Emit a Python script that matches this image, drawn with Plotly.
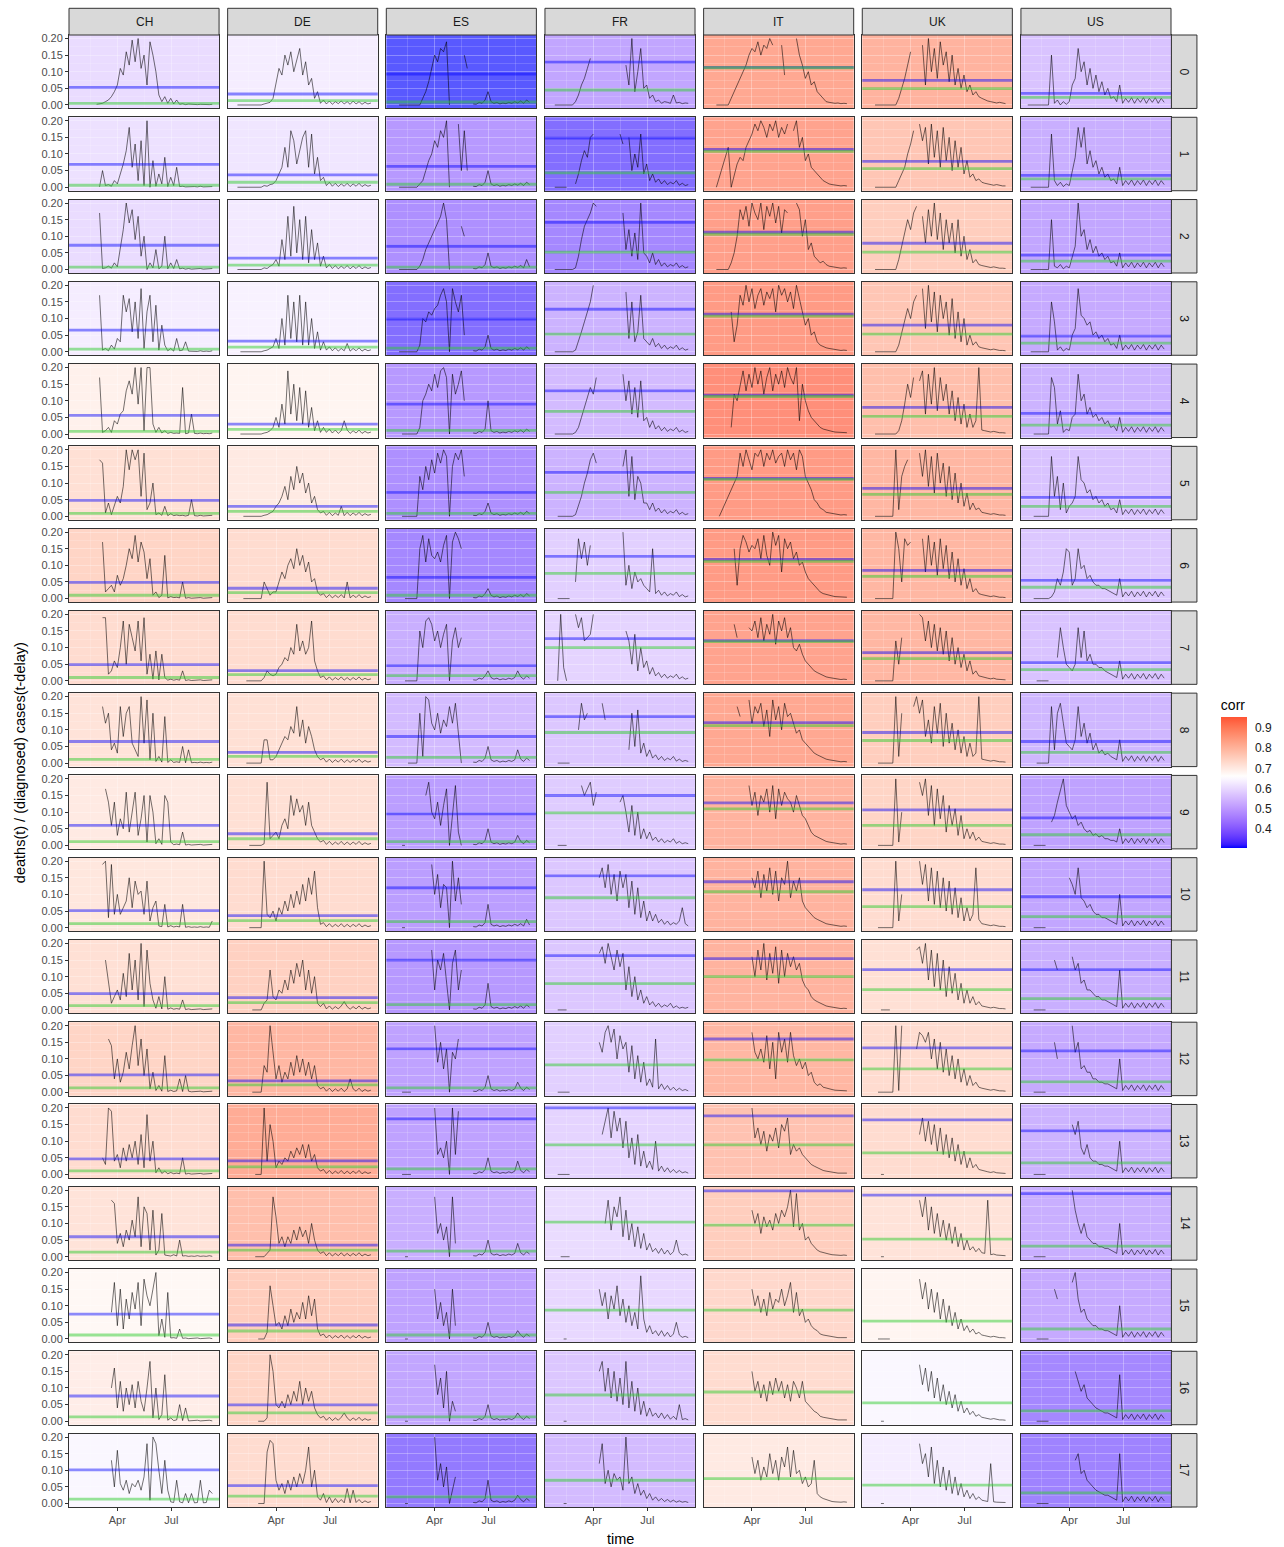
import pandas as pd
import plotly.graph_objects as go
import plotly.colors as pc

N = None
X = -1  # row absent from the source table (line joins its neighbours)

COUNTRIES = ["CH", "DE", "ES", "FR", "IT", "UK", "US"]
DELAYS = list(range(18))
DATES = pd.date_range("2020-01-22", periods=47, freq="5D")

# ---------------- correlation per delay (panel fill) ----------------
CORR_CH = [0.58, 0.59, 0.58, 0.62, 0.70, 0.75, 0.78, 0.76, 0.74, 0.72, 0.73, 0.75, 0.78, 0.76, 0.74, 0.68, 0.71, 0.64]
CORR_DE = [0.62, 0.60, 0.61, 0.63, 0.69, 0.72, 0.76, 0.76, 0.75, 0.75, 0.76, 0.79, 0.86, 0.89, 0.84, 0.80, 0.78, 0.76]
CORR_ES = [0.305, 0.42, 0.40, 0.33, 0.42, 0.40, 0.38, 0.47, 0.50, 0.43, 0.43, 0.42, 0.44, 0.44, 0.47, 0.44, 0.45, 0.35]
CORR_FR = [0.45, 0.33, 0.38, 0.48, 0.50, 0.48, 0.55, 0.56, 0.53, 0.54, 0.53, 0.53, 0.55, 0.56, 0.58, 0.57, 0.53, 0.50]
CORR_IT = [0.90, 0.91, 0.92, 0.93, 0.955, 0.93, 0.93, 0.91, 0.90, 0.87, 0.87, 0.87, 0.86, 0.83, 0.80, 0.77, 0.76, 0.72]
CORR_UK = [0.87, 0.82, 0.80, 0.82, 0.84, 0.86, 0.86, 0.86, 0.80, 0.78, 0.76, 0.75, 0.76, 0.76, 0.74, 0.69, 0.64, 0.62]
CORR_US = [0.52, 0.47, 0.45, 0.46, 0.48, 0.52, 0.53, 0.52, 0.49, 0.44, 0.45, 0.47, 0.46, 0.48, 0.47, 0.46, 0.38, 0.37]

# ---------------- blue horizontal line (mean ratio) ----------------
MEAN_CH = [0.053, 0.069, 0.073, 0.065, 0.056, 0.048, 0.049, 0.049, 0.065, 0.060, 0.051, 0.049, 0.052, 0.047, 0.060, 0.075, 0.076, 0.101]
MEAN_DE = [0.033, 0.037, 0.034, 0.032, 0.030, 0.030, 0.031, 0.031, 0.032, 0.035, 0.036, 0.037, 0.034, 0.041, 0.035, 0.042, 0.049, 0.054]
MEAN_ES = [0.093, 0.063, 0.070, 0.098, 0.090, 0.072, 0.064, 0.046, 0.080, 0.095, 0.120, 0.150, 0.130, 0.167, N, N, N, N]
MEAN_FR = [0.129, 0.148, 0.142, 0.128, 0.130, 0.132, 0.127, 0.127, 0.140, 0.150, 0.156, 0.163, N, 0.200, N, N, N, N]
MEAN_IT = [0.113, 0.114, 0.112, 0.113, 0.117, 0.114, 0.118, 0.121, 0.122, 0.128, 0.138, 0.154, 0.160, 0.176, 0.198, N, N, N]
MEAN_UK = [0.074, 0.078, 0.079, 0.080, 0.080, 0.084, 0.085, 0.085, 0.092, 0.107, 0.114, 0.121, 0.133, 0.164, 0.185, N, N, N]
MEAN_US = [0.035, 0.036, 0.043, 0.047, 0.062, 0.057, 0.055, 0.055, 0.065, 0.083, 0.093, 0.121, 0.124, 0.131, 0.190, N, N, N]

# ---------------- green horizontal line (median ratio) ----------------
MED_CH = [0.005, 0.006, 0.007, 0.008, 0.008, 0.009, 0.010, 0.010, 0.011, 0.011, 0.012, 0.013, 0.013, 0.011, 0.014, 0.012, 0.013, 0.013]
MED_DE = [0.013, 0.015, 0.013, 0.014, 0.014, 0.015, 0.018, 0.019, 0.020, 0.020, 0.021, 0.022, 0.022, 0.023, 0.020, 0.024, 0.025, 0.022]
MED_ES = [0.009, 0.009, 0.007, 0.011, 0.011, 0.009, 0.010, 0.016, 0.017, 0.011, 0.018, 0.016, 0.013, 0.017, 0.017, 0.012, 0.013, 0.020]
MED_FR = [0.045, 0.043, 0.052, 0.053, 0.068, 0.072, 0.076, 0.100, 0.092, 0.098, 0.090, 0.079, 0.082, 0.089, 0.104, 0.087, 0.079, 0.070]
MED_IT = [0.112, 0.108, 0.106, 0.107, 0.113, 0.111, 0.112, 0.118, 0.113, 0.110, 0.108, 0.100, 0.097, 0.089, 0.095, 0.087, 0.088, 0.075]
MED_UK = [0.049, 0.056, 0.052, 0.053, 0.053, 0.066, 0.067, 0.067, 0.068, 0.060, 0.063, 0.061, 0.070, 0.065, 0.053, 0.054, 0.055, 0.055]
MED_US = [0.023, 0.025, 0.025, 0.026, 0.027, 0.030, 0.034, 0.034, 0.032, 0.032, 0.033, 0.034, 0.031, 0.035, 0.032, 0.030, 0.031, 0.032]

# ---------------- ratio series, thousandths, every 5 days from 2020-01-22 ----------------
SERIES_CH = [
    [N,N,N,N,N,N,N,2,3,5, 10,15,25,40,60,110,90,160,120,195, 130,200,110,150,60,190,150,100,30,10, 25,5,20,3,15,2,4,1,3,2, 3,1,2,1,2,1,2],
    [N,N,N,N,N,N,N,N,1,50, 5,8,3,20,10,40,70,110,180,60, 130,20,140,5,200,0,80,3,40,10, 90,2,30,5,60,2,3,1,2,1, 2,1,3,1,2,1,2],
    [N,N,N,N,N,N,N,N,170,3, 5,10,4,20,8,60,120,200,140,180, 90,160,40,100,0,20,5,60,2,10, 100,2,20,3,30,2,4,1,3,1, 2,1,3,1,2,1,3],
    [N,N,N,N,N,N,N,N,170,5, 10,3,20,8,40,30,170,120,160,60, 150,40,190,10,120,170,30,140,5,80, 20,3,10,2,40,3,5,30,2,1, 2,1,3,1,2,1,3],
    [N,N,N,N,N,N,N,N,170,5, 10,20,5,40,30,60,70,130,160,120, 200,90,200,10,200,200,30,5,20,3, 10,2,5,2,3,2,140,1,3,60, 2,1,3,1,2,1,3],
    [N,N,N,N,N,N,N,N,170,160, 10,40,5,30,60,40,90,200,140,200, 170,200,60,190,20,40,100,5,10,3, 30,2,8,2,4,2,3,1,3,50, 2,1,3,1,2,1,3],
    [N,N,N,N,N,N,N,N,N,170, 20,30,40,20,70,40,60,100,150,120, 190,110,170,140,60,120,10,20,3,10, 130,2,6,3,4,2,50,1,3,1, 2,1,3,1,2,1,3],
    [N,N,N,N,N,N,N,N,N,190, 190,20,30,60,40,100,180,50,170,130, 90,180,60,190,20,80,5,90,3,80, 10,2,5,2,4,2,30,1,3,1, 2,1,3,1,2,1,3],
    [N,N,N,N,N,N,N,N,N,170, 120,150,40,60,30,170,80,150,170,60, 40,20,200,60,190,10,150,5,20,3, 140,2,10,2,4,2,50,1,40,1, 2,1,3,1,2,1,3],
    [N,N,N,N,N,N,N,N,N,N, 170,130,60,130,30,80,50,160,40,100, 160,30,80,150,10,150,100,5,20,3, 150,130,10,2,4,2,40,1,3,1, 2,1,3,1,2,1,3],
    [N,N,N,N,N,N,N,N,N,190, 200,30,190,40,100,40,60,80,150,60, 140,100,110,40,140,20,60,80,5,3, 70,2,6,2,4,2,70,1,3,1, 2,1,3,1,2,1,20],
    [N,N,N,N,N,N,N,N,N,N, 150,80,20,40,60,30,110,40,170,60, 150,30,200,10,180,80,30,5,40,3, 100,2,6,2,4,2,30,1,3,1, 2,1,3,1,2,1,3],
    [N,N,N,N,N,N,N,N,N,N, N,160,140,40,100,30,60,120,70,140, 200,80,160,50,130,10,60,5,20,3, 110,2,6,2,4,40,2,50,3,1, 2,1,3,1,2,1,3],
    [N,N,N,N,N,N,N,N,N,50, 30,200,190,40,60,20,80,40,90,50, 100,30,120,20,180,40,100,5,20,3, 10,2,6,2,4,2,50,1,3,1, 2,1,3,1,2,1,3],
    [N,N,N,N,N,N,N,N,N,N, N,N,170,160,40,70,30,80,50,110, 60,180,30,150,130,20,140,5,20,130, 5,4,2,6,2,50,2,3,1,2, 1,3,1,2,1,3,1],
    [N,N,N,N,N,N,N,N,N,N, N,N,80,170,40,150,30,120,60,140, 90,170,40,180,130,100,150,200,10,60, 5,140,3,4,2,30,2,3,1,2, 1,3,1,2,1,3,1],
    [N,N,N,N,N,N,N,N,N,N, N,N,100,160,40,120,30,100,50,110, 40,120,60,30,100,180,10,100,5,20, 140,3,10,2,4,50,2,40,1,2, 1,3,1,2,1,3,1],
    [N,N,N,N,N,N,N,N,N,N, N,N,130,50,160,60,40,70,30,60, 50,70,40,80,180,10,200,180,100,30, 130,40,5,3,70,5,2,30,2,30, 2,3,70,2,3,40,30],
]

SERIES_DE = [
    [N,0,0,0,0,0,0,0,0,0, 3,5,8,20,60,110,90,150,120,160, 100,140,170,90,130,60,80,20,40,5, 15,3,12,2,10,4,12,3,10,2, 12,3,10,2,8,3,6],
    [N,0,0,0,0,0,0,0,0,0, 5,3,8,10,20,40,60,120,60,170, 140,70,110,150,170,60,160,40,90,20, 30,5,15,3,12,2,10,3,12,2, 10,3,12,2,8,3,6],
    [N,0,0,0,0,0,0,0,0,0, 5,3,10,15,30,10,90,30,160,40, 190,50,150,30,160,20,120,30,80,10, 40,5,15,3,12,2,10,3,12,2, 10,3,12,2,8,3,6],
    [N,N,0,0,0,0,0,0,0,0, 3,5,10,15,40,10,100,20,170,40, 150,30,170,20,150,20,100,10,60,5, 30,5,15,3,12,2,10,3,25,2, 10,3,12,2,8,3,6],
    [N,N,0,0,0,0,0,0,0,0, 3,5,10,20,50,20,90,30,190,60, 150,40,140,30,130,20,80,10,40,5, 20,5,15,3,12,2,10,40,12,2, 10,3,12,2,8,3,6],
    [N,N,N,0,0,0,0,0,0,0, 3,5,10,15,30,40,60,90,50,120, 80,150,100,130,70,100,40,60,20,10, 15,3,12,2,10,3,30,2,12,2, 10,3,12,2,8,3,6],
    [N,N,N,0,0,0,0,0,0,0, 50,30,10,20,20,50,80,60,100,120, 90,150,100,130,80,110,50,60,20,10, 15,3,12,2,10,3,12,2,50,2, 10,3,12,2,8,3,6],
    [N,N,N,N,0,0,0,0,0,0, 10,30,20,15,20,40,50,70,60,100, 80,170,90,120,80,100,180,60,30,10, 15,3,12,2,10,3,12,2,10,2, 10,3,12,2,8,3,6],
    [N,N,N,N,0,0,0,0,0,0, 70,70,10,10,20,40,60,80,70,110, 90,170,80,130,60,110,80,40,20,10, 15,3,12,2,10,3,12,2,10,2, 10,3,12,2,8,3,6],
    [N,N,N,N,N,0,0,0,0,0, 5,190,20,30,40,20,60,80,50,150, 90,140,100,120,60,130,60,40,20,10, 15,3,12,2,10,3,12,2,10,2, 10,3,12,2,8,3,6],
    [N,N,N,N,N,0,0,0,0,0, 200,40,30,50,20,60,40,80,50,100, 60,110,70,130,80,150,100,170,60,10, 15,3,12,2,10,3,12,2,10,2, 10,3,12,2,8,3,6],
    [N,N,N,N,N,N,0,0,0,0, 20,30,120,40,30,60,50,90,60,120, 80,140,100,150,60,120,50,100,20,10, 20,3,12,2,10,3,12,25,10,2, 10,3,12,2,8,3,6],
    [N,N,N,N,N,N,0,0,0,0, 80,60,200,120,40,80,30,60,40,90, 50,110,60,100,50,90,40,80,20,10, 15,3,12,2,10,3,12,2,10,40, 10,3,12,2,8,3,6],
    [N,N,N,N,N,N,N,0,0,0, 200,40,150,100,20,40,30,50,40,70, 50,80,60,90,50,90,40,60,20,10, 15,3,12,2,10,3,12,2,10,2, 10,3,12,2,8,3,6],
    [N,N,N,N,N,N,N,0,0,0, 0,10,20,180,120,40,60,30,60,40, 80,50,90,60,80,40,100,50,20,10, 15,3,12,2,10,3,12,2,10,2, 10,3,12,2,8,3,6],
    [N,N,N,N,N,N,N,N,0,0, 0,20,160,100,40,50,30,70,40,90, 50,80,60,110,60,130,70,120,30,10, 15,3,12,2,10,3,12,2,10,2, 10,3,12,2,8,3,6],
    [N,N,N,N,N,N,N,N,0,0, 0,10,200,150,50,40,60,40,80,50, 90,60,120,50,100,60,90,40,20,10, 15,3,12,2,10,3,12,25,10,2, 10,3,12,2,8,3,6],
    [N,N,N,N,N,N,N,N,0,0, 0,155,190,180,70,40,60,30,70,40, 80,50,90,60,100,170,50,100,20,10, 30,3,20,2,15,3,12,2,45,2, 40,3,12,2,8,3,6],
]

SERIES_ES = [
    [N,N,0,0,0,0,0,0,0,0, 20,40,70,110,150,130,170,160,190,0, N,N,N,N,150,110,N,3,2,8, 5,15,40,10,5,8,3,6,4,8, 5,10,6,12,5,15,8],
    [N,N,0,0,0,0,0,0,0,10, 20,50,80,100,140,120,170,150,200,0, N,N,190,50,170,50,N,3,2,8, 5,15,50,10,5,8,3,6,4,8, 5,10,6,12,5,15,8],
    [N,N,0,0,0,0,0,0,0,10, 30,60,80,100,120,140,160,200,150,0, N,N,N,130,100,N,N,3,2,8, 5,15,50,10,5,8,3,6,4,8, 5,10,6,12,5,30,8],
    [N,N,0,0,0,0,0,0,0,20, 100,90,120,110,130,140,170,190,150,0, 190,150,120,170,50,N,N,3,2,8, 5,15,50,10,5,8,3,6,4,8, 5,10,6,12,5,15,8],
    [N,N,N,0,0,0,0,0,0,20, 100,120,150,130,180,140,190,200,170,0, 180,120,150,190,100,N,N,3,2,8, 5,15,100,10,5,8,3,6,4,8, 5,10,6,12,5,15,8],
    [N,N,N,0,0,0,0,0,0,120, 80,150,110,170,130,190,160,200,180,0, 150,190,170,200,120,N,N,3,2,8, 5,15,40,10,5,8,3,6,4,8, 5,10,6,12,5,15,8],
    [N,N,N,N,0,0,0,0,0,150, 190,110,180,130,120,140,110,160,190,0, 170,200,180,150,N,N,N,3,2,8, 5,15,30,10,5,8,3,6,4,8, 5,10,6,12,5,15,8],
    [N,N,N,N,0,0,0,0,0,150, 100,180,190,170,120,150,100,140,170,0, 120,160,100,130,N,N,N,3,2,8, 5,15,30,10,5,8,3,6,4,8, 5,10,30,12,5,15,8],
    [N,N,N,N,N,0,0,0,0,150, 20,200,190,120,100,150,90,130,110,170, 120,180,100,0,N,N,N,3,2,8, 5,15,50,10,5,8,3,6,4,8, 5,10,40,12,5,15,8],
    [N,N,N,0,0,N,N,N,N,N, N,150,190,100,80,130,60,120,170,0, 100,180,40,0,N,N,N,3,2,8, 5,15,50,10,5,8,3,6,4,8, 5,10,30,12,5,15,8],
    [N,N,N,0,0,N,N,N,N,N, N,N,N,190,100,160,60,130,120,0, 200,80,150,70,N,N,N,3,2,8, 5,15,70,10,5,8,3,6,4,8, 5,10,6,12,5,25,8],
    [N,N,N,N,N,N,N,N,N,N, N,N,N,180,60,150,120,170,80,0, 140,180,60,120,N,N,N,3,2,8, 5,15,80,10,5,8,3,6,4,8, 5,10,6,12,5,15,8],
    [N,N,N,0,0,0,0,N,N,N, N,N,N,N,200,90,150,70,130,0, 120,100,160,N,N,N,N,3,2,8, 5,15,50,10,5,8,3,6,4,8, 5,10,30,12,5,15,8],
    [N,N,N,0,0,0,0,N,N,N, N,N,N,N,200,60,80,50,100,0, 200,60,190,N,N,N,N,3,2,8, 5,15,50,10,5,8,3,6,4,8, 5,10,40,12,5,15,8],
    [N,N,N,N,0,0,N,N,N,N, N,N,N,N,180,70,100,50,90,0, 180,40,N,N,N,N,N,3,2,8, 5,15,50,10,5,8,3,6,4,8, 5,10,40,12,5,15,8],
    [N,N,N,N,0,0,N,N,N,N, N,N,N,N,150,60,110,40,80,0, 150,40,N,N,N,N,N,3,2,8, 5,15,50,10,5,8,3,6,4,8, 5,10,25,12,5,15,8],
    [N,N,N,N,0,0,N,N,N,N, N,N,N,N,170,80,130,40,150,0, 60,30,N,N,N,N,N,3,2,8, 5,15,50,10,5,8,3,6,4,8, 5,10,25,12,5,15,8],
    [N,N,N,N,0,0,N,N,N,N, N,N,N,N,200,70,120,50,110,0, 40,80,N,N,N,N,N,3,2,8, 5,15,70,10,5,8,3,6,4,8, 5,10,25,12,5,15,8],
]

SERIES_FR = [
    [N,0,0,0,0,0,0,0,10,30, 60,80,110,140,N,N,N,N,N,N, N,N,N,N,N,120,60,200,40,100, 170,50,60,20,30,10,15,5,10,8, 5,30,6,8,4,6,5],
    [N,0,0,0,0,0,N,N,10,40, 80,110,90,150,160,N,N,190,N,N, N,N,N,160,130,N,150,50,100,60, 160,40,70,20,40,15,25,10,20,8, 15,10,20,6,12,5,8],
    [N,0,0,0,0,0,0,0,5,40, 90,130,150,170,200,190,N,N,N,N, 170,N,N,N,170,60,120,40,110,30, 200,50,40,20,50,15,30,10,20,8, 15,10,20,6,12,5,8],
    [N,0,0,0,0,0,0,0,5,30, 60,90,120,150,200,N,N,N,170,N, N,130,N,160,N,180,40,150,30,60, 170,40,30,20,40,15,25,10,20,8, 15,10,20,6,12,5,8],
    [N,0,0,0,0,0,0,0,5,20, 50,80,110,140,120,170,N,N,N,N, 200,N,N,N,180,100,160,60,140,50, 160,40,50,20,40,15,25,10,20,8, 15,10,20,6,12,5,8],
    [N,N,0,0,0,0,0,0,5,30, 60,100,130,170,190,160,N,N,N,150, N,N,N,N,150,200,60,180,50,120, 100,40,40,20,40,15,25,10,20,8, 15,10,20,6,12,5,8],
    [N,N,0,0,0,0,0,N,50,180, 120,170,100,160,N,N,N,N,N,170, N,N,150,N,200,40,100,30,80,50, 60,40,30,20,150,15,25,10,20,8, 15,10,20,6,12,5,8],
    [N,N,0,200,40,0,N,N,200,160, 190,120,130,140,200,N,N,N,180,N, N,N,N,170,N,150,120,50,140,30, 100,40,60,20,40,15,25,10,20,8, 15,10,20,6,12,5,8],
    [N,N,0,0,0,0,0,N,N,100, 180,130,150,N,N,170,N,180,130,N, N,N,150,N,170,N,40,150,50,160, 30,60,20,40,15,25,10,20,8,15, 10,20,6,12,5,8,5],
    [N,N,0,0,0,0,N,N,N,N, 180,150,170,190,120,160,N,180,N,140, N,160,N,130,150,100,40,120,30,100, 20,50,20,40,15,25,10,20,8,15, 10,20,6,12,5,8,5],
    [N,N,N,N,N,N,N,N,N,N, N,N,N,N,N,N,150,180,120,190, 100,160,80,170,120,160,60,140,40,120, 30,80,20,50,20,40,15,25,10,20, 8,15,10,20,60,12,5],
    [N,N,0,0,0,0,N,N,N,N, N,N,N,N,N,N,170,190,140,200, 160,120,180,130,170,60,130,40,100,30, 60,20,40,15,25,10,20,8,15,10, 20,6,12,5,8,5,8],
    [N,N,0,0,0,0,0,N,N,N, N,N,N,N,N,N,150,120,180,200, 150,190,100,170,130,150,60,140,40,110, 30,90,20,40,15,160,10,25,8,20, 6,15,5,12,5,8,4],
    [N,N,0,0,0,0,0,N,N,N, N,N,N,N,N,N,N,120,160,200, 110,190,130,170,80,160,50,110,30,120, 25,70,20,40,15,100,10,25,8,20, 6,15,5,12,5,8,4],
    [N,N,N,0,0,0,0,N,N,N, N,N,N,N,N,N,N,N,100,170, 80,150,120,180,60,140,50,100,30,90, 25,70,20,40,15,25,10,25,8,20, 6,15,50,12,5,8,4],
    [N,N,N,N,0,0,N,N,N,N, N,N,N,N,N,N,150,100,140,60, 130,90,160,70,120,50,100,40,80,30, 190,60,20,40,15,25,10,25,8,20, 6,15,50,12,5,8,4],
    [N,N,N,N,0,0,N,N,N,N, N,N,N,N,N,N,150,180,90,160, 70,150,60,130,50,180,40,120,30,100, 20,60,15,40,15,25,10,25,8,20, 6,15,5,50,5,8,4],
    [N,N,N,N,0,0,N,N,N,N, N,N,N,N,N,N,120,180,60,100, 50,90,70,80,40,200,60,80,30,60, 25,40,15,30,10,20,8,15,6,12, 5,10,4,8,4,6,3],
]

SERIES_IT = [
    [N,N,0,0,0,0,0,20,40,60, 80,100,120,150,170,160,190,150,180,170, 200,180,N,N,180,90,N,N,N,200, 150,120,80,100,60,70,40,30,20,10, 8,6,5,6,4,5,4],
    [N,N,0,X,X,X,120,0,40,70, 90,80,120,140,160,190,170,200,180,150, 190,170,200,150,180,160,190,N,170,200, 120,150,80,100,60,50,40,30,20,15, 10,8,6,5,4,5,4],
    [N,N,0,0,0,0,0,20,50,100, 180,150,190,130,200,170,150,200,120,190, 160,200,140,190,110,180,170,N,N,200, 180,100,150,60,80,40,30,20,25,15, 10,8,6,5,4,5,4],
    [N,N,N,N,N,N,N,120,30,80, 170,140,200,150,190,130,170,190,140,180, 160,190,120,200,170,190,150,180,130,200, 160,120,80,100,50,60,30,20,15,12, 10,8,6,5,4,5,4],
    [N,N,N,N,N,N,N,20,120,100, 150,190,130,180,140,200,150,190,120,170, 200,130,180,150,190,140,200,170,150,200, 40,150,100,70,50,40,30,20,15,12, 10,8,6,5,4,5,4],
    [N,N,N,0,X,X,X,X,100,120, 190,150,200,170,140,190,180,200,150,190, 170,200,160,180,190,150,200,170,190,140, 200,180,120,100,80,50,40,25,20,12, 10,8,6,5,4,5,4],
    [N,N,N,N,N,N,N,N,150,40, 150,190,170,140,160,150,180,120,190,130, 100,200,160,190,80,180,150,170,120,140, 100,110,80,60,50,40,30,20,15,12, 10,8,6,5,4,5,4],
    [N,N,N,N,N,N,N,N,170,130, N,N,N,160,150,180,130,190,120,170, 140,200,110,180,150,190,130,160,100,90, 110,80,60,50,40,30,25,20,15,12, 10,8,6,5,4,5,4],
    [N,N,N,N,N,N,N,N,N,170, 140,N,N,190,120,170,150,180,110,160, 80,190,130,170,100,180,140,150,120,90, 100,70,60,50,40,30,25,20,15,12, 10,8,6,5,4,5,4],
    [N,N,N,N,N,N,N,N,N,N, N,N,N,180,120,160,90,150,130,170, 100,180,80,170,120,160,140,130,100,150, 120,90,80,60,40,30,25,20,15,12, 10,8,6,5,4,5,4],
    [N,N,N,N,N,N,N,N,N,N, N,N,N,N,150,120,170,90,160,110, 180,100,170,80,150,130,200,90,140,110, 150,80,60,50,40,30,25,20,15,12, 10,8,6,5,4,5,4],
    [N,N,N,N,N,N,N,N,N,N, N,N,N,N,160,100,180,120,200,90, 170,110,190,80,180,100,170,130,160,120, 140,90,70,60,40,30,25,20,15,12, 10,8,6,5,4,5,4],
    [N,N,N,N,N,N,N,N,N,N, N,N,N,N,180,120,100,130,90,170, 70,150,40,180,120,160,90,180,110,80, 100,70,90,50,60,30,20,25,15,12, 10,8,6,5,4,5,4],
    [N,N,N,N,N,N,N,N,N,N, N,N,N,N,200,110,140,90,130,70, 120,100,140,80,150,130,170,60,90,70, 80,60,50,40,30,25,20,15,12,10, 8,6,5,4,4,5,4],
    [N,N,N,N,N,N,N,N,N,N, N,N,N,N,140,100,130,70,120,90, 110,80,130,100,140,120,150,200,90,190, 80,100,50,60,40,30,20,15,12,10, 8,6,5,4,4,5,4],
    [N,N,N,N,N,N,N,N,N,N, N,N,N,N,150,100,130,80,120,70, 140,90,120,110,150,100,130,170,80,140, 70,90,50,60,40,30,25,15,12,10, 8,6,5,4,4,5,4],
    [N,N,N,N,N,N,N,N,N,N, N,N,N,N,150,90,120,70,110,60, 120,80,130,90,120,70,110,60,120,100, 70,120,60,50,40,30,25,15,12,10, 8,6,5,4,4,5,4],
    [N,N,N,N,N,N,N,N,N,N, N,N,N,N,140,90,130,70,110,80, 150,90,130,70,140,110,170,80,160,90, 100,60,80,50,60,130,30,20,15,12, 8,6,5,4,4,5,4],
]

SERIES_UK = [
    [N,N,0,0,0,0,0,0,0,0, 20,50,80,120,160,N,200,N,180,60, 200,100,170,80,190,120,160,70,150,60, 110,50,90,40,60,30,40,25,20,15, 12,10,8,6,8,5,4],
    [N,N,0,0,0,0,0,0,0,0, 20,40,60,100,130,170,N,190,140,180, 70,190,90,170,60,180,80,150,50,140, 60,120,40,80,30,40,20,25,15,12, 10,8,6,8,5,4,4],
    [N,N,0,0,0,0,0,0,0,0, 30,70,100,150,120,170,190,N,160,80, 180,100,200,90,170,60,150,80,140,50, 150,40,100,30,60,20,30,15,12,10, 8,6,8,5,4,4,3],
    [N,N,0,0,0,0,0,0,0,0, 20,60,100,130,100,150,170,N,190,70, 200,90,180,60,170,100,150,50,160,40, 120,30,100,20,50,20,30,15,12,10, 8,6,8,5,4,4,3],
    [N,N,0,0,0,0,0,0,0,0, 10,40,90,150,110,170,N,160,190,60, 180,90,200,70,170,100,150,60,130,40, 110,30,90,20,60,20,40,200,12,10, 8,6,8,5,4,4,3],
    [N,N,0,0,0,0,0,0,0,200, 20,120,150,170,N,150,N,190,120,200, 90,180,70,190,100,160,60,150,50,130, 40,100,30,70,20,40,20,25,12,10, 8,6,8,5,4,4,3],
    [N,N,0,0,0,0,0,0,0,200, 150,50,180,160,170,N,200,N,180,80, 190,100,170,70,180,90,160,60,140,50, 120,40,90,30,60,20,30,15,12,10, 8,6,8,5,4,4,3],
    [N,N,0,0,0,0,0,0,0,120, 50,130,N,N,N,150,N,200,190,120, 180,100,170,90,160,80,150,60,130,50, 100,40,80,30,60,20,30,15,12,10, 8,6,8,5,4,4,3],
    [N,N,N,0,0,0,0,0,0,200, 20,150,N,N,N,170,200,150,190,80, 130,60,170,90,180,50,150,60,120,40, 100,30,80,20,60,20,30,200,12,10, 8,6,8,5,4,4,3],
    [N,N,N,0,0,0,0,0,0,200, 10,100,N,N,N,170,N,190,150,200, 90,180,60,170,80,150,40,120,60,110, 30,90,20,50,20,40,15,25,12,10, 8,6,8,5,4,4,3],
    [N,N,N,0,0,0,0,0,0,200, 20,100,N,N,N,140,N,200,130,190, 80,180,70,170,60,150,50,140,40,120, 30,90,20,60,20,40,180,25,12,10, 8,6,8,5,4,4,3],
    [N,N,N,N,0,0,0,0,N,N, N,N,N,150,N,N,180,190,140,200, 90,180,70,170,60,150,40,130,50,110, 30,80,20,60,20,40,15,25,12,10, 8,6,8,5,4,4,3],
    [N,N,N,0,0,0,0,0,0,200, 5,200,N,N,N,N,130,180,170,150, 180,100,160,70,150,60,130,50,110,40, 100,30,70,20,50,20,30,15,12,10, 8,6,8,5,4,4,3],
    [N,N,N,N,0,0,N,N,N,N, N,N,N,N,N,N,N,120,170,100, 160,90,150,70,140,60,120,50,110,40, 90,30,70,20,50,20,30,15,12,10, 8,6,8,5,4,4,3],
    [N,N,N,N,0,0,N,N,N,N, N,N,N,N,N,N,N,170,120,180, 80,150,70,130,60,110,50,100,40,90, 30,70,20,50,20,30,15,25,12,10, 170,6,8,5,4,4,3],
    [N,N,N,0,0,0,0,0,N,N, N,N,N,N,N,N,N,180,120,170, 90,150,80,140,60,120,50,100,40,80, 30,60,25,40,20,30,15,20,12,10, 8,6,8,5,4,4,3],
    [N,N,N,N,0,0,N,N,N,N, N,N,N,N,N,N,N,170,110,160, 90,150,70,130,60,110,50,90,40,80, 30,60,25,40,20,30,15,20,12,10, 8,6,8,5,4,4,3],
    [N,N,N,N,0,0,N,N,N,N, N,N,N,N,N,N,N,180,120,150, 80,170,60,130,50,110,40,100,30,80, 25,60,20,40,15,30,12,20,10,8, 6,120,5,4,4,3,3],
]

SERIES_US = [
    [0,0,0,0,0,0,0,0,150,5, 15,0,10,2,10,60,80,170,100,130, 60,110,50,90,40,70,30,50,20,25, 10,60,5,20,8,22,5,20,8,22, 5,20,8,22,5,20,8],
    [N,0,0,0,0,0,0,0,160,20, 5,15,2,10,5,50,90,180,120,180, 70,110,60,80,40,60,30,40,20,25, 10,60,5,20,8,22,5,20,8,22, 5,20,8,22,5,20,8],
    [N,0,0,0,0,0,0,0,150,10, 5,15,2,10,5,40,70,200,100,120, 60,90,50,70,40,50,30,40,20,25, 10,50,5,20,8,22,5,20,8,22, 5,20,8,22,5,20,8],
    [N,0,0,0,0,0,0,0,150,90, 5,15,2,10,5,50,70,190,110,100, 80,90,50,60,40,50,30,40,20,25, 10,50,5,20,8,22,5,20,8,22, 5,20,8,22,5,20,8],
    [N,N,0,0,0,0,0,0,170,140, 30,70,5,15,10,50,60,180,100,120, 60,80,50,60,40,50,30,40,20,25, 10,50,5,20,8,22,5,20,8,22, 5,20,8,22,5,20,8],
    [N,N,0,0,0,0,0,0,180,60, 120,20,100,10,30,40,60,180,110,100, 70,80,50,60,40,50,30,40,20,25, 10,50,5,20,8,22,5,20,8,22, 5,20,8,22,5,20,8],
    [N,N,0,0,0,0,0,0,5,20, 60,40,80,150,140,40,60,150,90,100, 60,70,50,40,40,30,30,25,20,15, 10,60,5,20,8,22,5,20,8,22, 5,20,8,22,5,20,8],
    [N,N,N,0,0,0,0,0,N,N, 70,160,100,50,40,30,50,160,70,150, 60,80,50,50,40,40,30,25,20,15, 10,60,5,20,8,22,5,20,8,22, 5,20,8,22,5,20,8],
    [N,N,N,0,0,0,0,0,170,40, 150,180,120,60,50,40,70,170,80,120, 60,90,40,60,30,40,25,30,20,15, 10,70,5,20,8,22,5,20,8,22, 5,20,8,22,5,20,8],
    [N,N,0,0,0,0,0,N,70,90, 130,170,200,120,100,80,90,60,70,50, 40,45,30,35,25,30,20,20,15,15, 10,50,5,20,8,22,5,20,8,22, 5,20,8,22,5,20,8],
    [N,N,0,0,0,0,0,N,N,N, N,N,N,N,150,130,100,180,90,80, 60,70,50,40,40,30,30,25,20,15, 10,100,5,20,8,22,5,20,8,22, 5,20,8,22,5,20,8],
    [N,N,0,0,0,0,0,N,N,150, 120,N,N,N,N,160,120,140,80,90, 60,60,50,40,40,30,30,25,20,15, 10,120,5,20,8,22,5,20,8,22, 5,20,8,22,5,20,8],
    [N,N,0,0,0,0,0,N,N,150, 100,N,N,N,N,200,120,150,70,80, 60,60,40,40,30,30,25,25,20,15, 10,100,5,20,8,22,5,20,8,22, 5,20,8,22,5,20,8],
    [N,N,0,0,0,0,0,N,N,N, N,N,N,N,N,150,120,160,80,60, 90,50,40,40,30,30,25,25,20,15, 10,100,5,20,8,22,5,20,8,22, 5,20,8,22,5,20,8],
    [N,N,0,0,0,0,0,N,N,N, N,N,N,N,N,200,140,100,70,100, 60,50,40,40,30,30,25,25,20,15, 10,100,5,20,8,22,5,20,8,22, 5,20,8,22,5,20,8],
    [N,N,N,0,0,0,0,0,N,150, 120,N,N,N,N,170,200,120,80,90, 60,50,40,40,30,30,25,25,20,15, 10,100,5,20,8,22,5,20,8,22, 5,20,8,22,5,20,8],
    [N,N,N,0,0,0,0,0,N,N, N,N,N,N,N,N,150,120,90,110, 70,60,50,40,35,30,25,25,20,15, 10,140,5,20,8,22,5,20,8,22, 5,20,8,22,5,20,8],
    [N,N,N,0,0,0,0,0,N,N, N,N,N,N,N,N,130,150,90,100, 70,60,50,40,35,30,25,25,20,15, 10,150,5,20,8,22,5,20,8,22, 5,20,8,22,5,20,8],
]

Y_TICKS = [0.0, 0.05, 0.10, 0.15, 0.20]
Y_TICKTEXT = ["0.00", "0.05", "0.10", "0.15", "0.20"]
X_TICKS = ["2020-04-01", "2020-07-01"]
X_TICKTEXT = ["Apr", "Jul"]
CB_TICKS = [0.4, 0.5, 0.6, 0.7, 0.8, 0.9]

SERIES = {"CH": SERIES_CH, "DE": SERIES_DE, "ES": SERIES_ES, "FR": SERIES_FR,
          "IT": SERIES_IT, "UK": SERIES_UK, "US": SERIES_US}
CORR = {"CH": CORR_CH, "DE": CORR_DE, "ES": CORR_ES, "FR": CORR_FR,
        "IT": CORR_IT, "UK": CORR_UK, "US": CORR_US}
MEAN = {"CH": MEAN_CH, "DE": MEAN_DE, "ES": MEAN_ES, "FR": MEAN_FR,
        "IT": MEAN_IT, "UK": MEAN_UK, "US": MEAN_US}
MED = {"CH": MED_CH, "DE": MED_DE, "ES": MED_ES, "FR": MED_FR,
       "IT": MED_IT, "UK": MED_UK, "US": MED_US}

# ---------------- colour scale: blue - white - red, Lab interpolation ----------------
def _lin(c):
    c = c / 255.0
    return c / 12.92 if c <= 0.04045 else ((c + 0.055) / 1.055) ** 2.4

def _gam(c):
    c = min(max(c, 0.0), 1.0)
    return 12.92 * c if c <= 0.0031308 else 1.055 * c ** (1 / 2.4) - 0.055

WP = (0.95047, 1.0, 1.08883)

def rgb2lab(rgb):
    r, g, b = [_lin(v) for v in rgb]
    Xc = 0.4124 * r + 0.3576 * g + 0.1805 * b
    Yc = 0.2126 * r + 0.7152 * g + 0.0722 * b
    Zc = 0.0193 * r + 0.1192 * g + 0.9505 * b
    f = lambda t: t ** (1 / 3) if t > 216 / 24389 else (24389 / 27 * t + 16) / 116
    fx, fy, fz = f(Xc / WP[0]), f(Yc / WP[1]), f(Zc / WP[2])
    return (116 * fy - 16, 500 * (fx - fy), 200 * (fy - fz))

def lab2rgb(lab):
    L, a, b = lab
    fy = (L + 16) / 116
    fx = fy + a / 500
    fz = fy - b / 200
    finv = lambda t: t ** 3 if t ** 3 > 216 / 24389 else (116 * t - 16) / (24389 / 27)
    Xc, Yc, Zc = finv(fx) * WP[0], finv(fy) * WP[1], finv(fz) * WP[2]
    r = 3.2406 * Xc - 1.5372 * Yc - 0.4986 * Zc
    g = -0.9689 * Xc + 1.8758 * Yc + 0.0415 * Zc
    bb = 0.0557 * Xc - 0.2040 * Yc + 1.0570 * Zc
    return tuple(int(round(255 * _gam(v))) for v in (r, g, bb))

LOW, MIDC, HIGH = rgb2lab((0, 0, 255)), rgb2lab((255, 255, 255)), rgb2lab((255, 0, 0))
all_corr = [v for c in COUNTRIES for v in CORR[c]]
CMIN, CMAX = min(all_corr), max(all_corr)
MIDPOINT = 0.66
SPAN = max(MIDPOINT - CMIN, CMAX - MIDPOINT)

def grad2(v):
    t = (v - MIDPOINT) / (2 * SPAN) + 0.5
    if t < 0.5:
        s, A, B = t / 0.5, LOW, MIDC
    else:
        s, A, B = (t - 0.5) / 0.5, MIDC, HIGH
    lab = tuple(A[i] + s * (B[i] - A[i]) for i in range(3))
    return "rgb(%d,%d,%d)" % lab2rgb(lab)

NSTOP = 41
COLORSCALE = [[i / (NSTOP - 1), grad2(CMIN + (CMAX - CMIN) * i / (NSTOP - 1))] for i in range(NSTOP)]

def fill_for(v):
    col = pc.sample_colorscale(COLORSCALE, [(v - CMIN) / (CMAX - CMIN)])[0]
    r, g, b = pc.unlabel_rgb(col)
    return "rgb(%d,%d,%d)" % (round(r), round(g), round(b))

# ---------------- geometry ----------------
W, H = 1284, 1547
ML, MR, MT, MB = 69, 110, 35, 40
PW, PH = W - ML - MR, H - MT - MB
NC, NR = len(COUNTRIES), len(DELAYS)
GX, GY = 8.6, 8.8
CW = (PW - (NC - 1) * GX) / NC
RH = (PH - (NR - 1) * GY) / NR

def px2x(px):
    return (px - ML) / PW

def py2y(py):
    return 1 - (py - MT) / PH

FONT = "Liberation Sans, Arial, Helvetica, sans-serif"
XRANGE = ["2020-01-10 12:00", "2020-09-19 12:00"]
YRANGE = [-0.0105, 0.2105]
GRID = "rgba(255,255,255,0.30)"
MINOR_GRID = "rgba(255,255,255,0.16)"

fig = go.Figure()
layout = dict(width=W, height=H, margin=dict(l=ML, r=MR, t=MT, b=MB),
              paper_bgcolor="white", plot_bgcolor="white", showlegend=False,
              font=dict(family=FONT, color="#1A1A1A"))
shapes, annotations = [], []

for r, d in enumerate(DELAYS):
    for j, c in enumerate(COUNTRIES):
        n = r * NC + j + 1
        sfx = "" if n == 1 else str(n)
        xd0 = j * (CW + GX) / PW
        xd1 = (j * (CW + GX) + CW) / PW
        top = r * (RH + GY)
        yd1 = 1 - top / PH
        yd0 = 1 - (top + RH) / PH
        bottom_row = (r == NR - 1)
        left_col = (j == 0)
        layout["xaxis" + sfx] = dict(
            domain=[xd0, xd1], anchor="y" + sfx, type="date", range=XRANGE,
            tickmode="array", tickvals=X_TICKS, ticktext=X_TICKTEXT,
            showticklabels=bottom_row, ticks="outside" if bottom_row else "",
            ticklen=3, tickcolor="#333333", tickwidth=1,
            tickfont=dict(size=11, color="#4D4D4D", family=FONT),
            showgrid=True, gridcolor=GRID, gridwidth=1,
            minor=dict(tickvals=["2020-02-15", "2020-05-16", "2020-08-16"], showgrid=True,
                       gridcolor=MINOR_GRID, gridwidth=0.6, ticks=""),
            showline=True, linecolor="#333333", linewidth=1, mirror=True,
            zeroline=False, fixedrange=True)
        layout["yaxis" + sfx] = dict(
            domain=[yd0, yd1], anchor="x" + sfx, range=YRANGE,
            tickmode="array", tickvals=Y_TICKS, ticktext=Y_TICKTEXT,
            showticklabels=left_col, ticks="outside" if left_col else "",
            ticklen=3, tickcolor="#333333", tickwidth=1,
            tickfont=dict(size=11, color="#4D4D4D", family=FONT),
            showgrid=True, gridcolor=GRID, gridwidth=1,
            minor=dict(tickvals=[0.025, 0.075, 0.125, 0.175], showgrid=True,
                       gridcolor=MINOR_GRID, gridwidth=0.6, ticks=""),
            showline=True, linecolor="#333333", linewidth=1, mirror=True,
            zeroline=False, fixedrange=True)

        xref_dom = "x" + sfx + " domain"
        yref_dom = "y" + sfx + " domain"
        # panel fill from corr
        shapes.append(dict(type="rect", xref=xref_dom, yref=yref_dom, x0=0, x1=1, y0=0, y1=1,
                           fillcolor=fill_for(CORR[c][r]), opacity=0.65,
                           line=dict(width=0), layer="below"))

        # series
        xs, ys = [], []
        for dt, v in zip(DATES, SERIES[c][r]):
            if v == X:
                continue
            xs.append(dt)
            ys.append(None if v is None else v / 1000.0)
        fig.add_trace(go.Scatter(x=xs, y=ys, mode="lines", xaxis="x" + sfx, yaxis="y" + sfx,
                                 line=dict(color="rgba(0,0,0,0.58)", width=0.95),
                                 connectgaps=False, hoverinfo="skip", showlegend=False))

        # horizontal reference lines
        mv = MEAN[c][r]
        if mv is not None:
            shapes.append(dict(type="line", xref=xref_dom, yref="y" + sfx, x0=0, x1=1, y0=mv, y1=mv,
                               line=dict(color="rgba(0,0,255,0.45)", width=2.8), layer="above"))
        gv = MED[c][r]
        if gv is not None:
            shapes.append(dict(type="line", xref=xref_dom, yref="y" + sfx, x0=0, x1=1, y0=gv, y1=gv,
                               line=dict(color="rgba(50,205,50,0.5)", width=2.8), layer="above"))

# strips on top (countries)
strip_top = py2y(8.3)
for j, c in enumerate(COUNTRIES):
    xd0 = j * (CW + GX) / PW
    xd1 = (j * (CW + GX) + CW) / PW
    shapes.append(dict(type="rect", xref="paper", yref="paper", x0=xd0, x1=xd1, y0=1, y1=strip_top,
                       fillcolor="#D9D9D9", line=dict(color="#333333", width=1), layer="above"))
    annotations.append(dict(xref="paper", yref="paper", x=(xd0 + xd1) / 2, y=(1 + strip_top) / 2,
                            text=c, showarrow=False, xanchor="center", yanchor="middle",
                            font=dict(size=12, color="#1A1A1A", family=FONT)))

# strips on the right (delays)
sx0 = px2x(ML + PW + 0.4)
sx1 = px2x(ML + PW + 26)
for r, d in enumerate(DELAYS):
    top = r * (RH + GY)
    yd1 = 1 - top / PH
    yd0 = 1 - (top + RH) / PH
    shapes.append(dict(type="rect", xref="paper", yref="paper", x0=sx0, x1=sx1, y0=yd0, y1=yd1,
                       fillcolor="#D9D9D9", line=dict(color="#333333", width=1), layer="above"))
    annotations.append(dict(xref="paper", yref="paper", x=(sx0 + sx1) / 2, y=(yd0 + yd1) / 2,
                            text=str(d), showarrow=False, textangle=90,
                            xanchor="center", yanchor="middle",
                            font=dict(size=12, color="#1A1A1A", family=FONT)))

# axis titles
annotations.append(dict(xref="paper", yref="paper", x=0.5, y=py2y(1539), text="time",
                        showarrow=False, xanchor="center", yanchor="middle",
                        font=dict(size=14.5, color="#000000", family=FONT)))
annotations.append(dict(xref="paper", yref="paper", x=px2x(20), y=py2y(763),
                        text="deaths(t) / (diagnosed) cases(t-delay)", textangle=-90,
                        showarrow=False, xanchor="center", yanchor="middle",
                        font=dict(size=14.5, color="#000000", family=FONT)))

# colour bar legend (bar 719..848 px, title above)
fig.add_trace(go.Scatter(
    x=[DATES[0]], y=[-1], mode="markers", xaxis="x", yaxis="y", hoverinfo="skip",
    showlegend=False,
    marker=dict(size=1, color=[CMIN], cmin=CMIN, cmax=CMAX, colorscale=COLORSCALE, showscale=True,
                colorbar=dict(x=px2x(1224), xanchor="left", y=py2y(848), yanchor="bottom",
                              len=152, lenmode="pixels", thickness=26, thicknessmode="pixels",
                              outlinewidth=0, xpad=0, ypad=0,
                              tickmode="array", tickvals=CB_TICKS,
                              ticktext=["0.4", "0.5", "0.6", "0.7", "0.8", "0.9"],
                              ticks="outside", ticklen=6, tickcolor="rgba(255,255,255,0)",
                              tickwidth=1,
                              tickfont=dict(size=12, color="#1A1A1A", family=FONT),
                              title=dict(text="corr", side="top",
                                         font=dict(size=14, color="#000000", family=FONT))))))

layout["shapes"] = shapes
layout["annotations"] = annotations
fig.update_layout(**layout)
fig.write_html("out.html", config={"displayModeBar": False},
               post_script="document.body.style.margin='0px';document.body.style.overflow='hidden';")
